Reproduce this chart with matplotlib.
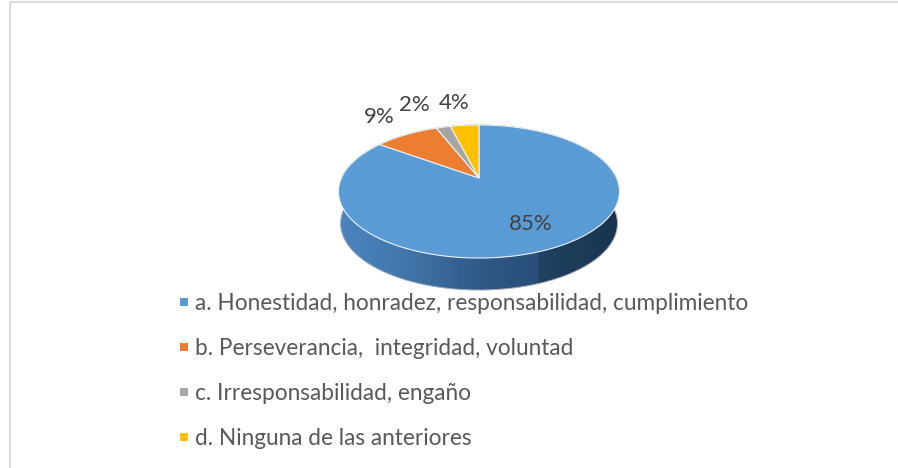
import numpy as np
import matplotlib
matplotlib.use('Agg')
import matplotlib.pyplot as plt
from matplotlib.patches import Polygon

categories = ['a. Honestidad, honradez, responsabilidad, cumplimiento',
              'b. Perseverancia,  integridad, voluntad',
              'c. Irresponsabilidad, engaño',
              'd. Ninguna de las anteriores']
values = [85, 9, 2, 4]
pct_labels = ['85%', '9%', '2%', '4%']
colors = ['#5B9BD5', '#ED7D31', '#A5A5A5', '#FFC000']

plt.rcParams['font.family'] = ['Lato', 'DejaVu Sans']

# pie seen in perspective, apex sits above the middle of the ellipse
cx, cy = 479, 178
A, B, p = 137.6, 63.8, 0.203
depth = 32

def project(frac, r=1.0):
    ang = 2*np.pi*np.asarray(frac)
    u, v = r*np.sin(ang), r*np.cos(ang)
    w = 1 + p*v
    return cx + A*u/w, cy - B*v/w

fig = plt.figure(figsize=(8.98, 4.68), dpi=100)
ax = fig.add_axes([0, 0, 1, 1])
ax.set_xlim(0, 898)
ax.set_ylim(468, 0)
ax.axis('off')

# chart frame
ax.plot([9.5, 9.5, 898], [468, 2, 2], color='#DDDDDD', lw=1.5)

# side of the pie: top half of the rim plus the lower half of the dropped rim
t = np.linspace(0.25, 0.75, 200)
xl, yl = project(t, 1.0)
xt, yt = project(t[::-1] + 0.5, 1.0)
lower_x = cx + (xl - cx)*0.985
side = Polygon(np.r_[np.c_[lower_x, yl + depth], np.c_[xt, yt]], closed=True,
               fc='none', ec='#A4AEB8', lw=0.7, zorder=1.5)
ax.add_patch(side)
stops_x = [338, 400, 479, 537, 538, 619]
stops_r = [0.30, 0.26, 0.19, 0.16, 0.13, 0.10]
stops_g = [0.52, 0.47, 0.35, 0.31, 0.26, 0.20]
stops_b = [0.75, 0.68, 0.53, 0.47, 0.39, 0.30]
gx = np.arange(338, 620)
grad = np.dstack([np.interp(gx, stops_x, s) for s in (stops_r, stops_g, stops_b)])
img = ax.imshow(grad, extent=(338, 620, 292, 180), aspect='auto', zorder=1)
img.set_clip_path(side)
ax.set_xlim(0, 898)
ax.set_ylim(468, 0)

# top face, wedges clockwise from 12 o'clock
edges = np.r_[0, np.cumsum(values)] / np.sum(values)
for i, color in enumerate(colors):
    f = np.linspace(edges[i], edges[i+1], 200)
    x, y = project(f)
    ax.add_patch(Polygon(np.r_[[[cx, cy]], np.c_[x, y]], closed=True, fc=color,
                         ec='#EAF1F8', lw=0.8, zorder=2))

label_xy = [(530.5, 224), (379, 117), (414, 105), (454, 103)]
for s, (lx, ly) in zip(pct_labels, label_xy):
    ax.text(lx, ly, s, fontsize=16, color='#404040', ha='center', va='center', zorder=3)

legend_y = [302, 347, 392, 437]
for name, color, ly in zip(categories, colors, legend_y):
    ax.scatter([184], [ly], marker='s', s=28, color=color, linewidths=0, zorder=3)
    ax.text(195, ly + 1.5, name, fontsize=16.3, color='#595959', va='center', zorder=3)

fig.savefig('out.png', dpi=100)
